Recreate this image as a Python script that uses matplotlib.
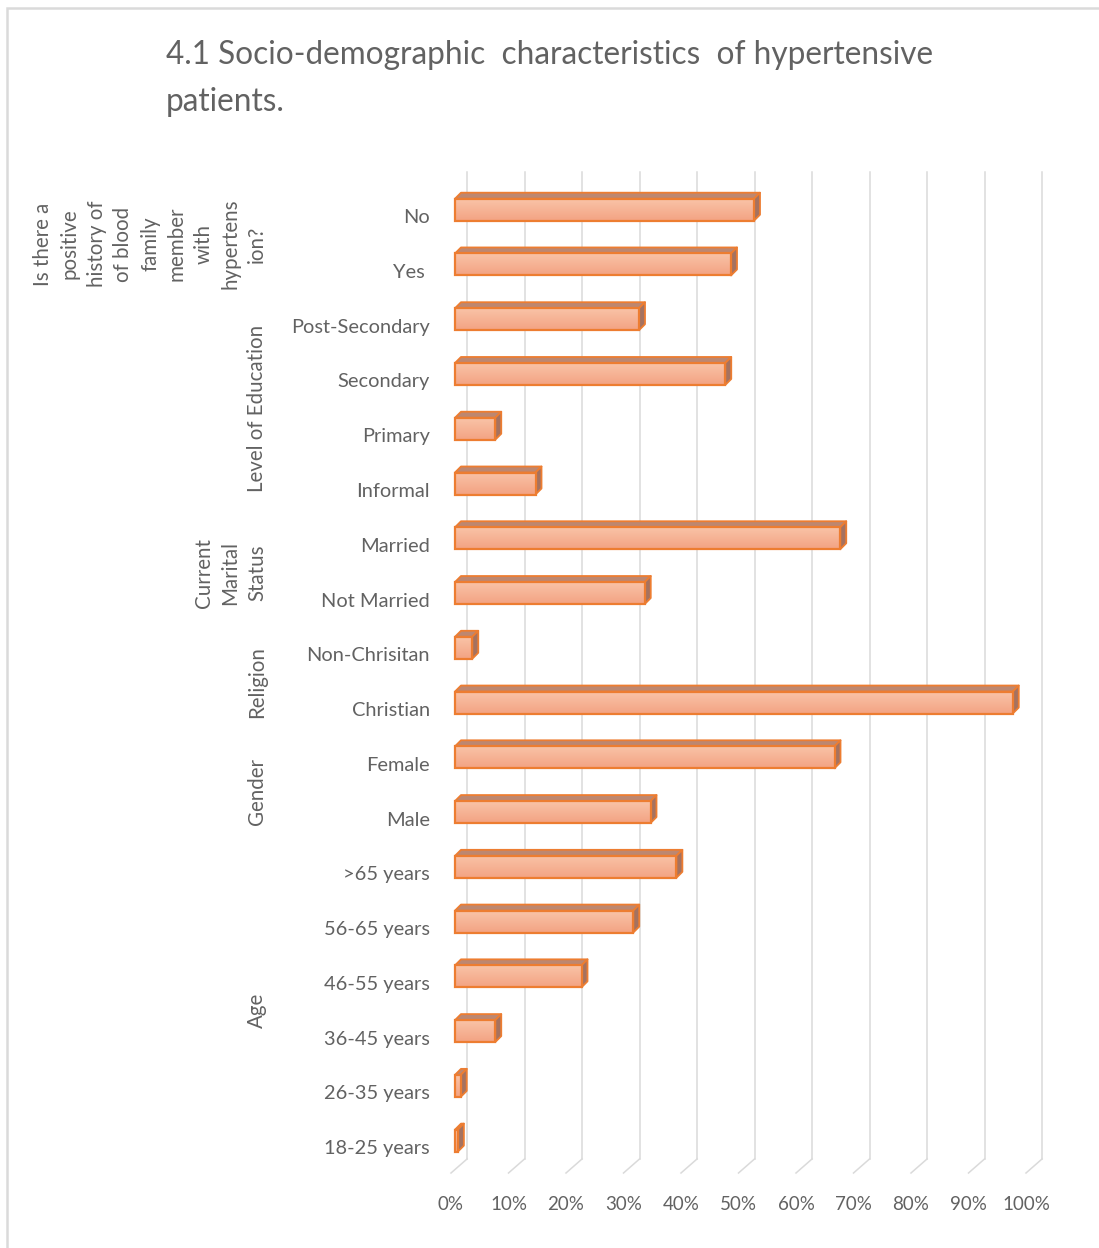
import numpy as np
import matplotlib
matplotlib.use("Agg")
import matplotlib.pyplot as plt
from matplotlib.patches import Polygon, Rectangle
from matplotlib.colors import LinearSegmentedColormap

plt.rcParams["font.family"] = ["Lato", "DejaVu Sans"]

# categories bottom -> top, shares in percent
categories = ["18-25 years", "26-35 years", "36-45 years", "46-55 years",
              "56-65 years", ">65 years", "Male", "Female", "Christian",
              "Non-Chrisitan", "Not Married", "Married", "Informal", "Primary",
              "Secondary", "Post-Secondary", "Yes ", "No"]
values = [0.5, 1.0, 7.0, 22.0, 31.0, 38.5, 34.0, 66.0, 97.0,
          3.0, 33.0, 67.0, 14.0, 7.0, 47.0, 32.0, 48.0, 52.0]

groups = ["Age", "Gender", "Religion", "Current\nMarital\nStatus",
          "Level of Education",
          "Is there a\npositive\nhistory of\nof blood\nfamily\nmember\nwith\nhypertens\nion?"]
group_spans = [(0, 5), (6, 7), (8, 9), (10, 11), (12, 15), (16, 17)]

ticks = np.arange(0, 101, 10)
tick_labels = [f"{t}%" for t in ticks]

title = "4.1 Socio-demographic  characteristics  of hypertensive\npatients."

TEXT = "#626262"
GRID = "#DADADA"
EDGE = "#ED7D31"
TOP_FACE = "#BD8770"
SIDE_FACE = "#A57260"

W, H = 1099, 1248
fig = plt.figure(figsize=(W / 100, H / 100), dpi=100)

# plot area in pixels: 0% .. 100% on the front floor edge
x0_px, x1_px = 451, 1026
cat_px = 54.76
y_bot_px = 1173
n = len(categories)
y_top_px = y_bot_px - n * cat_px
ax = fig.add_axes([x0_px / W, 1 - y_bot_px / H,
                   (x1_px - x0_px) / W, (y_bot_px - y_top_px) / H])
ax.set_xlim(0, 100)
ax.set_ylim(-0.5, n - 0.5)
ax.axis("off")

PX = 100 / (x1_px - x0_px)   # data units per pixel, x
PY = 1 / cat_px              # data units per pixel, y

# oblique depth of the floor and of the bars
floor_dx, floor_dy = 16 * PX, 14 * PY
bar_off_x = 4 * PX
bar_dx, bar_dy = 6 * PX, 6 * PY
bar_lo, bar_hi = -6 * PY, 16 * PY
wall_top = -0.5 + (y_bot_px - 172) * PY

# gridlines: wall verticals plus slanted floor segments
for t in ticks:
    ax.plot([t + floor_dx, t + floor_dx], [-0.5 + floor_dy, wall_top],
            color=GRID, lw=1.1, clip_on=False, zorder=1)
    ax.plot([t, t + floor_dx], [-0.5, -0.5 + floor_dy],
            color=GRID, lw=1.1, clip_on=False, zorder=1)

grad = LinearSegmentedColormap.from_list("front", ["#F3A383", "#F9C3A7"])
gimg = np.linspace(0, 1, 64).reshape(-1, 1)

for i, v in enumerate(values):
    xl = bar_off_x
    xr = bar_off_x + v
    yb = i + bar_lo
    yt = i + bar_hi
    # top face
    ax.add_patch(Polygon([(xl, yt), (xr, yt), (xr + bar_dx, yt + bar_dy),
                          (xl + bar_dx, yt + bar_dy)], closed=True,
                         facecolor=TOP_FACE, edgecolor=EDGE, lw=1.3,
                         joinstyle="round", clip_on=False, zorder=3))
    # right face
    ax.add_patch(Polygon([(xr, yb), (xr + bar_dx, yb + bar_dy),
                          (xr + bar_dx, yt + bar_dy), (xr, yt)], closed=True,
                         facecolor=SIDE_FACE, edgecolor=EDGE, lw=1.3,
                         joinstyle="round", clip_on=False, zorder=3))
    # front face with a soft vertical gradient
    front = Rectangle((xl, yb), v, yt - yb, facecolor="none",
                      edgecolor=EDGE, lw=1.6, clip_on=False, zorder=5)
    ax.add_patch(front)
    if v > 0.3:
        im = ax.imshow(gimg, cmap=grad, aspect="auto", origin="lower",
                       extent=(xl, xr, yb, yt), zorder=4,
                       interpolation="bilinear")
        im.set_clip_path(front)

# tick labels under the front floor edge
for t, lab in zip(ticks, tick_labels):
    ax.text(t, -0.5 - 31 * PY, lab, ha="center", va="center",
            fontsize=13.5, color=TEXT, clip_on=False)

# category labels
for i, lab in enumerate(categories):
    ax.text((430 - x0_px) * PX, i - 3 * PY, lab, ha="right", va="center",
            fontsize=14.4, color=TEXT, clip_on=False)

# group labels, rotated
for g, (a, b) in zip(groups, group_spans):
    ax.text((267 - x0_px) * PX, (a + b) / 2 - 2 * PY, g, rotation=90,
            ha="right", va="center", multialignment="center", fontsize=14.8,
            color=TEXT, linespacing=1.42, clip_on=False)

fig.text(166 / W, 1 - 40 / H, title, ha="left", va="top", fontsize=22.7,
         color=TEXT, linespacing=1.72)

# chart frame (right and bottom edges fall outside the image)
fig.patches.append(Rectangle((7 / W, -0.1), 1.2, 1 - 8 / H + 0.1,
                             transform=fig.transFigure, facecolor="none",
                             edgecolor=GRID, lw=1.8, zorder=0))

fig.savefig("out.png", dpi=100, facecolor="white")
